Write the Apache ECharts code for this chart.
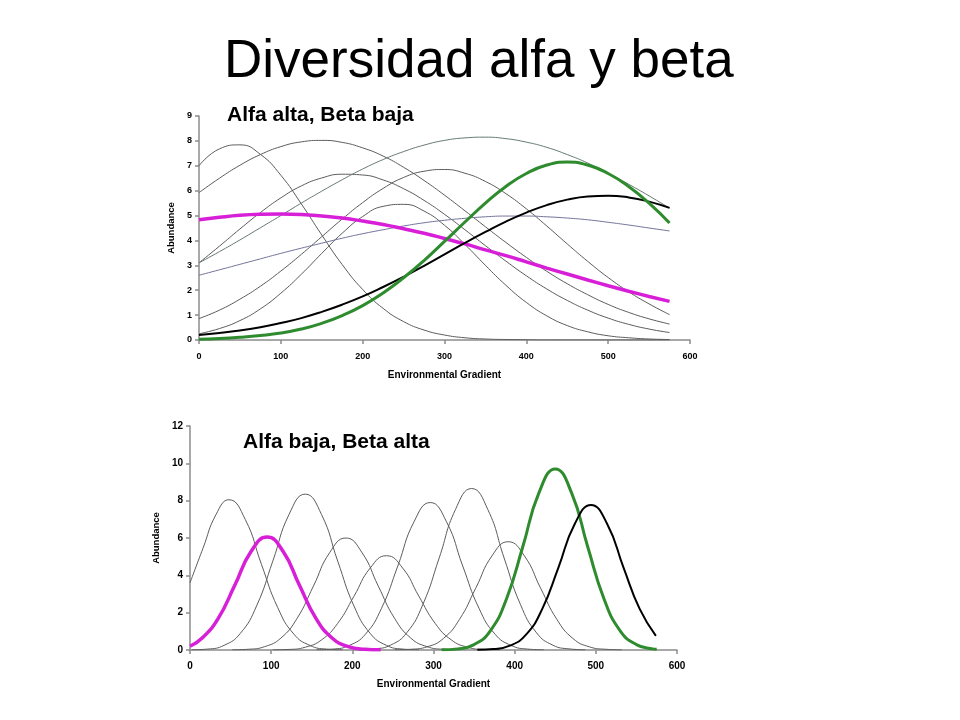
<!DOCTYPE html>
<html>
<head>
<meta charset="utf-8">
<title>Diversidad alfa y beta</title>
<script src="https://cdn.jsdelivr.net/npm/echarts@6/dist/echarts.min.js"></script>
<style>
  html, body { margin: 0; padding: 0; background: #fff; }
  #main { width: 960px; height: 720px; }
</style>
</head>
<body>
<div id="main"></div>
<script>
// Panel 1: "Alfa alta, Beta baja" - values every 25 units
var altaX = [0, 25, 50, 75, 100, 125, 150, 175, 200, 225, 250, 275, 300, 325, 350, 375, 400, 425, 450, 475, 500, 525, 550, 575];
var altaSp1 = [7.00, 7.68, 7.84, 7.46, 6.62, 5.47, 4.22, 3.03, 2.03, 1.27, 0.74, 0.40, 0.20, 0.09, 0.04, 0.02, 0.01, 0, 0, 0, 0, 0, 0, 0];
var altaSp2 = [5.92, 6.50, 7.02, 7.45, 7.77, 7.96, 8.02, 7.94, 7.72, 7.39, 6.94, 6.41, 5.82, 5.19, 4.55, 3.92, 3.32, 2.76, 2.26, 1.82, 1.43, 1.11, 0.85, 0.64];
var altaSp3 = [3.10, 3.77, 4.46, 5.12, 5.71, 6.19, 6.51, 6.66, 6.63, 6.43, 6.08, 5.61, 5.05, 4.43, 3.79, 3.17, 2.58, 2.05, 1.59, 1.20, 0.88, 0.63, 0.44, 0.30];
var altaSp4 = [3.10, 3.55, 4.02, 4.51, 5.00, 5.50, 5.98, 6.44, 6.87, 7.25, 7.57, 7.83, 8.02, 8.12, 8.15, 8.09, 7.95, 7.74, 7.45, 7.11, 6.70, 6.26, 5.79, 5.30];
var altaSp5 = [0.86, 1.20, 1.64, 2.16, 2.77, 3.44, 4.15, 4.86, 5.52, 6.09, 6.53, 6.78, 6.85, 6.70, 6.37, 5.88, 5.27, 4.58, 3.86, 3.16, 2.51, 1.94, 1.45, 1.02];
var altaSp6 = [0.25, 0.46, 0.78, 1.25, 1.88, 2.64, 3.48, 4.29, 4.96, 5.37, 5.45, 5.18, 4.61, 3.84, 3.00, 2.20, 1.51, 0.97, 0.58, 0.33, 0.17, 0.09, 0.04, 0.02];
var altaSp7 = [2.60, 2.82, 3.04, 3.26, 3.48, 3.69, 3.89, 4.09, 4.27, 4.43, 4.58, 4.71, 4.81, 4.89, 4.95, 4.98, 4.98, 4.95, 4.90, 4.83, 4.73, 4.62, 4.50, 4.38];
var altaMagenta = [4.83, 4.93, 5.01, 5.05, 5.06, 5.04, 4.98, 4.90, 4.78, 4.64, 4.47, 4.29, 4.08, 3.86, 3.62, 3.39, 3.14, 2.89, 2.65, 2.41, 2.18, 1.96, 1.75, 1.55];
var altaBlack = [0.20, 0.28, 0.38, 0.51, 0.68, 0.88, 1.13, 1.42, 1.75, 2.13, 2.54, 2.98, 3.44, 3.90, 4.34, 4.76, 5.12, 5.42, 5.64, 5.77, 5.80, 5.73, 5.56, 5.31];
var altaGreen = [0.03, 0.06, 0.11, 0.18, 0.28, 0.44, 0.67, 0.98, 1.38, 1.89, 2.50, 3.19, 3.96, 4.74, 5.50, 6.17, 6.69, 7.03, 7.15, 7.03, 6.69, 6.17, 5.50, 4.70];

// Panel 2: "Alfa baja, Beta alta" - [gradient, abundance] pairs
var bajaSp1 = [[0, 3.6], [16, 5.45], [32, 7.25], [48, 8.05], [68, 7.0], [88, 4.59], [108, 2.28], [128, 0.85], [148, 0.24], [168, 0.05], [188, 0.01]];
var bajaMagenta = [[0, 0.2], [15, 0.64], [35, 1.71], [55, 3.45], [75, 5.26], [95, 6.05], [115, 5.26], [135, 3.45], [155, 1.71], [175, 0.64], [195, 0.18], [215, 0.04], [235, 0.01]];
var bajaSp2 = [[2, 0.01], [22, 0.05], [42, 0.25], [62, 0.89], [82, 2.36], [102, 4.76], [122, 7.26], [142, 8.35], [162, 7.26], [182, 4.76], [202, 2.36], [222, 0.89], [242, 0.25], [262, 0.05], [282, 0.01]];
var bajaSp3 = [[52, 0.01], [72, 0.04], [92, 0.18], [112, 0.64], [132, 1.7], [152, 3.42], [172, 5.21], [192, 6.0], [212, 5.21], [232, 3.42], [252, 1.7], [272, 0.64], [292, 0.18], [312, 0.04], [332, 0.01]];
var bajaSp4 = [[102, 0.01], [122, 0.03], [142, 0.15], [162, 0.54], [182, 1.43], [202, 2.88], [222, 4.39], [242, 5.05], [262, 4.39], [282, 2.88], [302, 1.43], [322, 0.54], [342, 0.15], [362, 0.03], [382, 0.01]];
var bajaSp5 = [[156, 0.01], [176, 0.05], [196, 0.24], [216, 0.84], [236, 2.24], [256, 4.5], [276, 6.87], [296, 7.9], [316, 6.87], [336, 4.5], [356, 2.24], [376, 0.84], [396, 0.24], [416, 0.05], [436, 0.01]];
var bajaSp6 = [[207, 0.01], [227, 0.06], [247, 0.26], [267, 0.92], [287, 2.45], [307, 4.93], [327, 7.52], [347, 8.65], [367, 7.52], [387, 4.93], [407, 2.45], [427, 0.92], [447, 0.26], [467, 0.06], [487, 0.01]];
var bajaSp7 = [[252, 0.01], [272, 0.04], [292, 0.17], [312, 0.61], [332, 1.64], [352, 3.31], [372, 5.04], [392, 5.8], [412, 5.04], [432, 3.31], [452, 1.64], [472, 0.61], [492, 0.17], [512, 0.04], [532, 0.01]];
var bajaGreen = [[310, 0.01], [330, 0.06], [350, 0.29], [370, 1.03], [390, 2.75], [410, 5.53], [430, 8.43], [450, 9.7], [470, 8.43], [490, 5.53], [510, 2.75], [530, 1.03], [550, 0.29], [570, 0.06], [575, 0.04]];
var bajaBlack = [[354, 0.01], [374, 0.05], [394, 0.23], [414, 0.82], [434, 2.2], [454, 4.43], [474, 6.75], [494, 7.77], [514, 6.75], [534, 4.43], [554, 2.2], [574, 0.76]];

var FONT = '"Liberation Sans", Arial, Helvetica, sans-serif';
var GRAY = '#5c5c5c';

function pairs(xs, ys) {
  return xs.map(function (x, i) { return [x, ys[i]]; });
}

function curve(data, grid, color, width) {
  return {
    type: 'line',
    xAxisIndex: grid,
    yAxisIndex: grid,
    data: data,
    smooth: 0.5,
    showSymbol: false,
    silent: true,
    clip: true,
    lineStyle: { color: color, width: width },
    z: width > 1 ? 3 : 2
  };
}

function xAxis(grid, labelSize, nameGap, labelMargin) {
  return {
    type: 'value', gridIndex: grid, min: 0, max: 600, interval: 100,
    name: 'Environmental Gradient', nameLocation: 'middle', nameGap: nameGap,
    nameTextStyle: { fontFamily: FONT, fontWeight: 'bold', fontSize: 10, color: '#000' },
    axisLine: { lineStyle: { color: '#8c8c8c', width: 1.5 } },
    axisTick: { show: true, length: 4, lineStyle: { color: '#8c8c8c', width: 1.5 } },
    axisLabel: { fontFamily: FONT, fontWeight: 'bold', fontSize: labelSize, color: '#000', margin: labelMargin },
    splitLine: { show: false }
  };
}

function yAxis(grid, max, interval, labelSize, nameGap) {
  return {
    type: 'value', gridIndex: grid, min: 0, max: max, interval: interval,
    name: 'Abundance', nameLocation: 'middle', nameRotate: 90, nameGap: nameGap,
    nameTextStyle: { fontFamily: FONT, fontWeight: 'bold', fontSize: 9.5, color: '#000' },
    axisLine: { show: true, lineStyle: { color: '#8c8c8c', width: 1.5 } },
    axisTick: { show: true, length: 4, lineStyle: { color: '#8c8c8c', width: 1.5 } },
    axisLabel: { fontFamily: FONT, fontWeight: 'bold', fontSize: labelSize, color: '#000', margin: 7 },
    splitLine: { show: false }
  };
}

var chart = echarts.init(document.getElementById('main'));
chart.setOption({
  backgroundColor: '#fff',
  animation: false,
  title: [
    { text: 'Diversidad alfa y beta', left: 224, top: 36, padding: 0,
      textStyle: { fontFamily: FONT, fontWeight: 'normal', fontSize: 53, color: '#000' } },
    { text: 'Alfa alta, Beta baja', left: 227, top: 105, padding: 0,
      textStyle: { fontFamily: FONT, fontWeight: 'bold', fontSize: 21, color: '#000' } },
    { text: 'Alfa baja, Beta alta', left: 243, top: 432, padding: 0,
      textStyle: { fontFamily: FONT, fontWeight: 'bold', fontSize: 21, color: '#000' } }
  ],
  grid: [
    { left: 199, top: 116, width: 491, height: 224 },
    { left: 190, top: 426, width: 487, height: 224 }
  ],
  xAxis: [xAxis(0, 9, 30, 12), xAxis(1, 10, 29, 11)],
  yAxis: [yAxis(0, 9, 1, 9, 19), yAxis(1, 12, 2, 10, 23)],
  series: [
    curve(pairs(altaX, altaSp1), 0, GRAY, 1),
    curve(pairs(altaX, altaSp2), 0, GRAY, 1),
    curve(pairs(altaX, altaSp3), 0, GRAY, 1),
    curve(pairs(altaX, altaSp4), 0, '#667a70', 1),
    curve(pairs(altaX, altaSp5), 0, GRAY, 1),
    curve(pairs(altaX, altaSp6), 0, GRAY, 1),
    curve(pairs(altaX, altaSp7), 0, '#73739a', 1),
    curve(pairs(altaX, altaMagenta), 0, '#d81fd8', 3.5),
    curve(pairs(altaX, altaBlack), 0, '#000000', 2),
    curve(pairs(altaX, altaGreen), 0, '#2e8b2e', 3),

    curve(bajaSp1, 1, GRAY, 1),
    curve(bajaSp2, 1, GRAY, 1),
    curve(bajaSp3, 1, GRAY, 1),
    curve(bajaSp4, 1, GRAY, 1),
    curve(bajaSp5, 1, GRAY, 1),
    curve(bajaSp6, 1, GRAY, 1),
    curve(bajaSp7, 1, GRAY, 1),
    curve(bajaMagenta, 1, '#d81fd8', 3.5),
    curve(bajaGreen, 1, '#2e8b2e', 3),
    curve(bajaBlack, 1, '#000000', 2)
  ]
});
</script>
</body>
</html>
